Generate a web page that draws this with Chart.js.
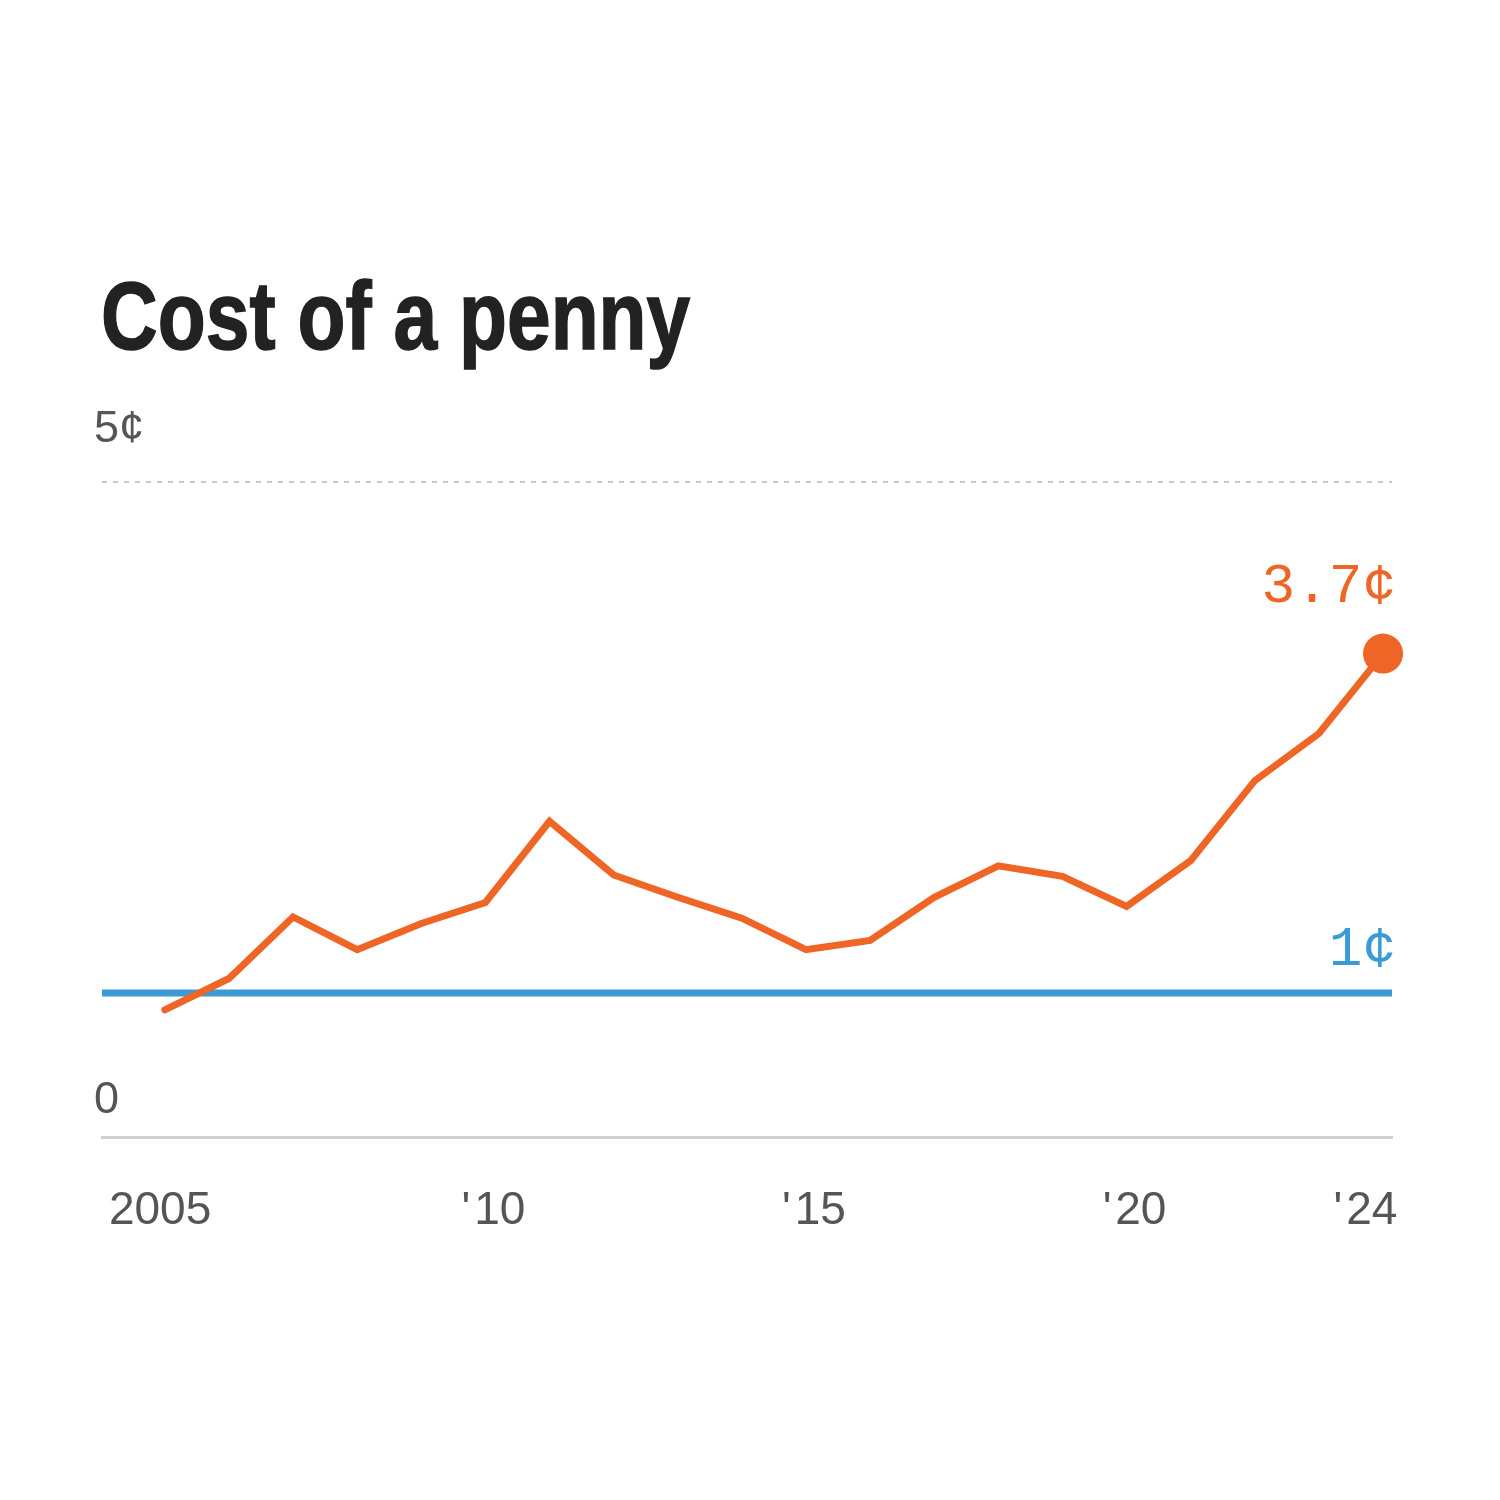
<!DOCTYPE html>
<html lang="en">

<head>
    <meta charset="UTF-8">
    <title>Cost of a penny</title>
    <script src="https://cdn.jsdelivr.net/npm/chart.js"></script>

    <style>
        body {
            margin: 0;
            background: #fff;
        }

        .wrap {
            position: relative;
            width: 1500px;
            height: 1500px;
        }

        h1 {
            position: absolute;
            left: 101px;
            top: 268px;
            margin: 0;
            font-family: "Liberation Sans", Arial, sans-serif;
            font-weight: bold;
            font-size: 97px;
            line-height: 96px;
            color: #222;
            white-space: nowrap;
            -webkit-text-stroke: 1.5px #222;
            transform: scaleX(0.81);
            transform-origin: left top;
        }

        canvas {
            position: absolute;
            left: 0;
            top: 0;
        }
    </style>
</head>

<body>
    <div class="wrap">
        <canvas id="pennyChart" width="1500" height="1500"></canvas>
        <h1>Cost of a penny</h1>
    </div>

    <script>
    // valores (centavos por moeda)
    var years = [2005, 2006, 2007, 2008, 2009, 2010, 2011, 2012, 2013, 2014,
                 2015, 2016, 2017, 2018, 2019, 2020, 2021, 2022, 2023, 2024];
    var cost = [0.97, 1.21, 1.68, 1.43, 1.63, 1.79, 2.41, 2.00, 1.83, 1.67,
                1.43, 1.50, 1.83, 2.07, 1.99, 1.76, 2.11, 2.72, 3.08, 3.69];
    var pennyLine = 1.1; // linha azul de "1¢", como aparece no gráfico

    var xTicks = [2005, 2010, 2015, 2020, 2024];
    var xTickLabels = ['2005  ', "'\u200A10", "'\u200A15", "'\u200A20", "'\u200A24    "];
    var yTicks = [0, 5];
    var yTickLabels = [['', '0'], '5¢'];

    var orange = '#ef6526';
    var blue = '#3a9bd6';
    var grey = '#555555';

    var xMin = 2004.02;
    var xMax = 2024.14;
    var last = cost.length - 1;

    // textos no fim das linhas (3.7¢ e 1¢)
    var endLabels = {
        id: 'endLabels',
        afterDatasetsDraw: function (chart) {
            var ctx = chart.ctx;
            var y = chart.scales.y;
            var right = chart.chartArea.right + 4;
            ctx.save();
            ctx.font = '56px "Liberation Mono", monospace';
            ctx.textAlign = 'right';
            ctx.textBaseline = 'alphabetic';
            ctx.fillStyle = orange;
            ctx.fillText(cost[last].toFixed(1) + '¢', right, y.getPixelForValue(cost[last]) - 52);
            ctx.fillStyle = blue;
            ctx.fillText('1¢', right, y.getPixelForValue(pennyLine) - 28);
            ctx.restore();
        }
    };

    var points = [];
    for (var i = 0; i < years.length; i++) {
        points.push({ x: years[i], y: cost[i] });
    }

    var ctxChart = document.getElementById('pennyChart').getContext('2d');
    var myChart = new Chart(ctxChart, {
        type: 'line',
        data: {
            datasets: [{
                label: 'Cost',
                data: points,
                borderColor: orange,
                borderWidth: 7,
                borderCapStyle: 'round',
                borderJoinStyle: 'miter',
                tension: 0,
                clip: false,
                pointRadius: function (c) { return c.dataIndex === last ? 20 : 0; },
                pointBackgroundColor: orange,
                pointBorderWidth: 0
            }, {
                label: '1¢',
                data: [{ x: xMin, y: pennyLine }, { x: xMax, y: pennyLine }],
                borderColor: blue,
                borderWidth: 7,
                pointRadius: 0,
                clip: false
            }]
        },
        options: {
            responsive: false,
            animation: false,
            devicePixelRatio: 1,
            layout: {
                padding: { left: 102, right: 108, top: 482, bottom: 263 }
            },
            plugins: {
                legend: { display: false },
                tooltip: { enabled: false }
            },
            scales: {
                x: {
                    type: 'linear',
                    min: xMin,
                    max: xMax,
                    afterBuildTicks: function (axis) {
                        axis.ticks = xTicks.map(function (v) { return { value: v }; });
                    },
                    afterFit: function (axis) { axis.height = 100; },
                    grid: { display: false, drawTicks: false },
                    border: { display: true, color: '#d0d0d0', width: 3 },
                    ticks: {
                        autoSkip: false,
                        maxRotation: 0,
                        padding: 47,
                        labelOffset: 8,
                        color: grey,
                        font: { family: '"Liberation Sans", Arial, sans-serif', size: 46 },
                        callback: function (value) {
                            return xTickLabels[xTicks.indexOf(value)];
                        }
                    }
                },
                y: {
                    min: 0,
                    max: 5,
                    afterBuildTicks: function (axis) {
                        axis.ticks = yTicks.map(function (v) { return { value: v }; });
                    },
                    afterFit: function (axis) { axis.width = 0; },
                    grid: {
                        drawTicks: false,
                        lineWidth: 2,
                        color: function (c) { return c.tick && c.tick.value === 5 ? '#c8c8c8' : 'transparent'; }
                    },
                    border: { display: false, dash: [5, 6] },
                    ticks: {
                        mirror: true,
                        padding: -8,
                        labelOffset: -52,
                        color: grey,
                        font: function (c) {
                            return {
                                family: '"Liberation Sans", Arial, sans-serif',
                                size: 45,
                                lineHeight: c.tick && c.tick.value === 0 ? '32px' : 1.2
                            };
                        },
                        callback: function (value) {
                            return yTickLabels[yTicks.indexOf(value)];
                        }
                    }
                }
            }
        },
        plugins: [endLabels]
    });
    </script>

</body>

</html>
